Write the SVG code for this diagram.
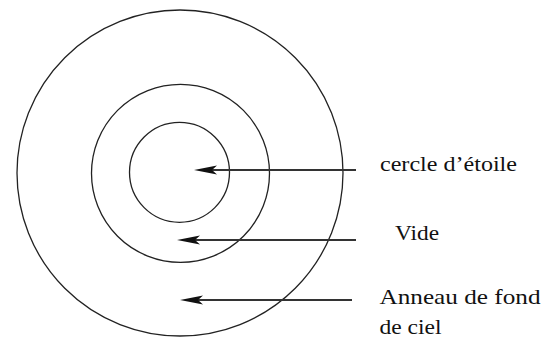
<svg xmlns="http://www.w3.org/2000/svg" width="559" height="338" viewBox="0 0 559 338">
<style>
.ring{fill:none;stroke:#222;stroke-width:1.3}
.arr{fill:none;stroke:#333;stroke-width:2.2;marker-end:url(#ah)}
.lbl{font-family:"Liberation Serif","Times New Roman",serif;fill:#111}
</style>
<defs>
<marker id="ah" markerUnits="userSpaceOnUse" viewBox="0 -5 23 10" refX="17" refY="0" markerWidth="23" markerHeight="10" orient="auto">
<path d="M0,-4.5 L23,0 L0,4.5 L5,0 Z" fill="#111"/>
</marker>
</defs>
<rect width="559" height="338" fill="#fff"/>
<g id="outer"><circle class="ring" cx="180" cy="173" r="163"/></g>
<g id="middle"><circle class="ring" cx="180.5" cy="173.3" r="89"/></g>
<g id="inner"><circle class="ring" cx="179.5" cy="172.3" r="50"/></g>
<g id="connectors">
<line class="arr" x1="356" y1="170" x2="200" y2="170"/>
<line class="arr" x1="356" y1="240" x2="183" y2="240"/>
<line class="arr" x1="352" y1="300" x2="186" y2="300"/>
</g>
<g id="label-etoile"><text class="lbl" x="380" y="171" font-size="20" textLength="137" lengthAdjust="spacingAndGlyphs">cercle d’étoile</text></g>
<g id="label-vide"><text class="lbl" x="395" y="239.5" font-size="22" textLength="44" lengthAdjust="spacingAndGlyphs">Vide</text></g>
<g id="label-anneau"><text class="lbl" font-size="22"><tspan x="379.5" y="303.5" textLength="161" lengthAdjust="spacingAndGlyphs">Anneau de fond</tspan><tspan x="379.5" y="333.5" textLength="62" lengthAdjust="spacingAndGlyphs">de ciel</tspan></text></g>
</svg>
